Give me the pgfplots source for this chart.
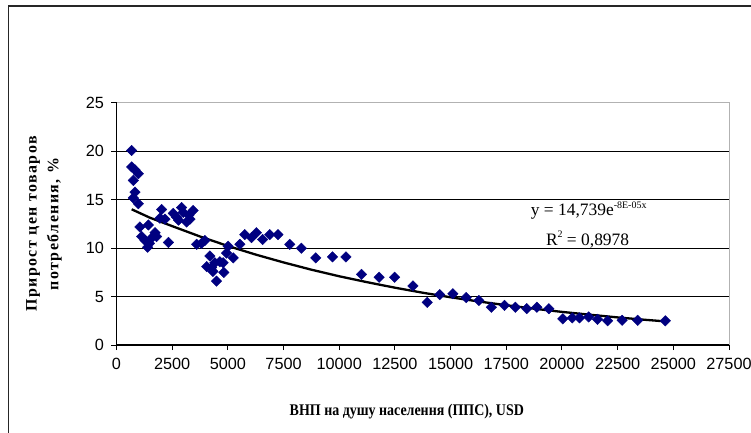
\documentclass[border=0pt]{standalone}
\usepackage{pgfplots}
\pgfplotsset{compat=1.18}
\usepackage{fontspec}
\setmainfont{Liberation Serif}
\newfontfamily\arialfont{Liberation Sans}
\definecolor{navy}{HTML}{000080}
\begin{document}
\begin{tikzpicture}
\useasboundingbox (0,0) rectangle (751bp,433bp);
\draw[line width=1.5bp, black!85] (8.5bp,0) -- (8.5bp,427bp) -- (751bp,427bp);
\begin{axis}[
  at={(116.5bp,88bp)}, anchor=south west, scale only axis,
  width=612.5bp, height=242bp,
  xmin=0, xmax=27500, ymin=0, ymax=25,
  xtick={0,2500,...,27500}, ytick={0,5,...,25},
  axis x line*=bottom, axis y line*=left,
  axis background/.style={draw=gray!60, line width=1bp},
  axis line style={line width=1.2bp, -},
  tick style={black, line width=1bp},
  tick align=outside, major tick length=5bp,
  scaled x ticks=false,
  /pgf/number format/assume math mode=true,
  /pgf/number format/1000 sep={},
  tick label style={font=\arialfont\fontsize{16.3}{18}\selectfont},
  x tick label style={yshift=-5bp},
  y tick label style={xshift=-4bp},
  extra y ticks={5,10,15,20}, extra y tick labels={},
  extra y tick style={grid=major, major tick length=0pt},
  major grid style={black, line width=0.9bp},
  ylabel={Прирост цен товаров\\потребления, \%},
  ylabel style={at={(axis description cs:-0.1184,0.5)}, anchor=center, align=center,
    font=\bfseries\fontsize{16}{22}\selectfont\addfontfeature{LetterSpace=9}},
  xlabel={\scalebox{0.86}[1]{ВНП на душу населення (ППС), USD}},
  xlabel style={at={(axis description cs:0.474,-0.277)}, anchor=center,
    font=\bfseries\fontsize{16.3}{18}\selectfont},
]
\addplot[only marks, mark=square*, mark size=3.7bp, color=navy,
  mark options={rotate=45, fill=navy, draw=navy}] coordinates {
(680,20.1) (680,18.4) (830,18.1) (980,17.7) (755,17.0) (830,15.8) (755,15.2) (980,14.6)
(1050,12.2) (1130,11.2) (1280,10.8) (1400,10.1) (1480,10.5) (1430,12.4) (1600,11.1) (1730,11.6) (1800,11.2)
(1950,13.1) (2030,14.0) (2180,13.0) (2330,10.6) (2550,13.6) (2700,13.2) (2780,12.9) (2920,14.2)
(3000,13.7) (3150,12.7) (3250,13.4) (3300,13.0) (3440,13.9) (3600,10.4) (3820,10.5) (3970,10.8)
(4050,8.1) (4190,9.2) (4270,8.0) (4330,7.6) (4420,8.5) (4490,6.6) (4640,8.6) (4790,8.5) (4820,7.5)
(4940,9.5) (5010,10.2) (5240,9.0) (5540,10.4) (5760,11.4) (6060,11.1) (6280,11.6) (6560,10.9)
(6880,11.4) (7250,11.4) (7780,10.4) (8300,10.0) (8950,9.0) (9700,9.1) (10300,9.1) (11000,7.3)
(11790,7.0) (12490,7.0) (13310,6.1) (13950,4.4) (14510,5.2) (15100,5.3) (15700,4.9) (16270,4.6)
(16830,3.9) (17420,4.1) (17910,3.9) (18420,3.75) (18870,3.9) (19410,3.75) (20040,2.7) (20460,2.8)
(20790,2.8) (21200,2.9) (21600,2.65) (22050,2.5) (22700,2.55) (23400,2.55) (24640,2.5)
};
\addplot[no marks, black, line width=2.3bp] coordinates {
(680,14.02) (1500,13.15) (2500,12.28) (3750,11.21) (5000,10.23) (6250,9.34) (7500,8.53)
(8750,7.78) (10000,7.10) (11250,6.49) (12500,5.92) (13750,5.40) (15000,4.93) (16250,4.50)
(17500,4.11) (18750,3.75) (20000,3.42) (21250,3.13) (22500,2.85) (23750,2.60) (24640,2.44)
};
\node[anchor=base, font=\fontsize{17.5}{20}\selectfont] at (axis cs:21200,13.35)
  {y = 14,739e\raisebox{7.5bp}{\fontsize{10}{12}\selectfont -8E-05x}};
\node[anchor=base, font=\fontsize{17.5}{20}\selectfont] at (axis cs:21150,10.33)
  {R\raisebox{7.5bp}{\fontsize{10}{12}\selectfont 2} = 0,8978};
\end{axis}
\end{tikzpicture}
\end{document}
